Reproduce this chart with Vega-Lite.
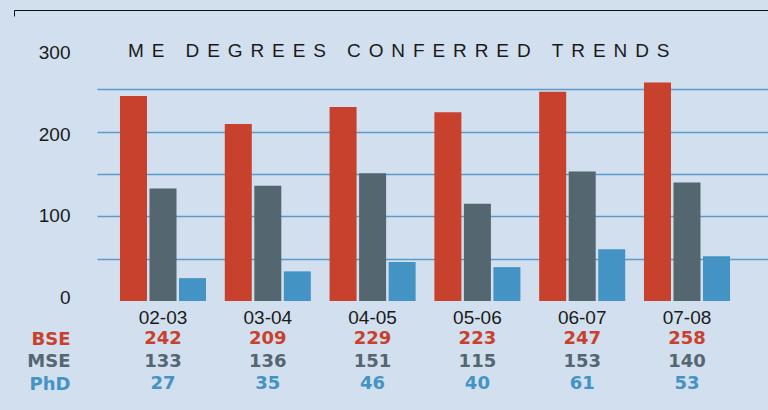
{
  "$schema": "https://vega.github.io/schema/vega-lite/v6.json",
  "autosize": "none",
  "padding": {"left": 97, "top": 47, "right": 0, "bottom": 109},
  "width": 671,
  "height": 254,
  "background": "#d2dfee",
  "config": {"view": {"stroke": null}},
  "title": {
    "text": "M\u2005\u2006E\u2005\u2006 \u2005\u2006D\u2005\u2006E\u2005\u2006G\u2005\u2006R\u2005\u2006E\u2005\u2006E\u2005\u2006S\u2005\u2006 \u2005\u2006C\u2005\u2006O\u2005\u2006N\u2005\u2006F\u2005\u2006E\u2005\u2006R\u2005\u2006R\u2005\u2006E\u2005\u2006D\u2005\u2006 \u2005\u2006T\u2005\u2006R\u2005\u2006E\u2005\u2006N\u2005\u2006D\u2005\u2006S",
    "anchor": "start",
    "frame": "group",
    "dx": 31,
    "offset": -32.4,
    "baseline": "alphabetic",
    "font": "Liberation Sans",
    "fontSize": 19,
    "fontWeight": "normal",
    "color": "#1a1a1a"
  },
  "data": {
    "values": [
      {"year": "02-03", "degree": "BSE", "count": 242},
      {"year": "02-03", "degree": "MSE", "count": 133},
      {"year": "02-03", "degree": "PhD", "count": 27},
      {"year": "03-04", "degree": "BSE", "count": 209},
      {"year": "03-04", "degree": "MSE", "count": 136},
      {"year": "03-04", "degree": "PhD", "count": 35},
      {"year": "04-05", "degree": "BSE", "count": 229},
      {"year": "04-05", "degree": "MSE", "count": 151},
      {"year": "04-05", "degree": "PhD", "count": 46},
      {"year": "05-06", "degree": "BSE", "count": 223},
      {"year": "05-06", "degree": "MSE", "count": 115},
      {"year": "05-06", "degree": "PhD", "count": 40},
      {"year": "06-07", "degree": "BSE", "count": 247},
      {"year": "06-07", "degree": "MSE", "count": 153},
      {"year": "06-07", "degree": "PhD", "count": 61},
      {"year": "07-08", "degree": "BSE", "count": 258},
      {"year": "07-08", "degree": "MSE", "count": 140},
      {"year": "07-08", "degree": "PhD", "count": 53}
    ]
  },
  "layer": [
    {
      "mark": {"type": "bar"},
      "encoding": {
        "x": {
          "field": "year",
          "type": "nominal",
          "scale": {"type": "band", "paddingInner": 0.179, "paddingOuter": 0.2909, "align": 0.377},
          "axis": {
            "orient": "bottom",
            "title": null,
            "domain": false,
            "ticks": false,
            "labelAngle": 0,
            "labelPadding": 7,
            "labelFont": "Liberation Sans",
            "labelFontSize": 19,
            "labelColor": "#1a1a1a"
          }
        },
        "xOffset": {
          "field": "degree",
          "type": "nominal",
          "sort": ["BSE", "MSE", "PhD"],
          "scale": {"paddingInner": 0.085, "paddingOuter": 0}
        },
        "y": {
          "field": "count",
          "type": "quantitative",
          "scale": {"domain": [0, 300], "nice": false},
          "axis": {
            "orient": "left",
            "title": null,
            "values": [0, 50, 100, 150, 200, 250, 300],
            "labelExpr": "datum.value % 100 === 0 ? datum.label : ''",
            "labelOverlap": false,
            "domain": false,
            "ticks": false,
            "labelPadding": 27,
            "labelFont": "Liberation Sans",
            "labelFontSize": 19,
            "labelColor": "#1a1a1a",
            "labelOffset": {
              "condition": [
                {"test": "datum.value === 300", "value": 5.6},
                {"test": "datum.value === 200", "value": 2.5},
                {"test": "datum.value === 0", "value": -3.6}
              ],
              "value": -0.9
            },
            "grid": true,
            "gridWidth": 1.5,
            "gridColor": {
              "condition": {"test": "datum.value === 0 || datum.value === 300", "value": "transparent"},
              "value": "#5b9bca"
            }
          }
        },
        "color": {
          "field": "degree",
          "type": "nominal",
          "scale": {"domain": ["BSE", "MSE", "PhD"], "range": ["#c8412c", "#546670", "#4393c4"]},
          "legend": null
        }
      }
    },
    {
      "mark": {"type": "text", "font": "DejaVu Sans", "fontWeight": "bold", "fontSize": 18, "baseline": "middle", "align": "center"},
      "encoding": {
        "x": {
          "field": "year",
          "type": "nominal",
          "bandPosition": 0.5,
          "scale": {"type": "band", "paddingInner": 0.179, "paddingOuter": 0.2909, "align": 0.377},
          "axis": null
        },
        "y": {
          "field": "degree",
          "type": "nominal",
          "scale": {"type": "point", "domain": ["BSE", "MSE", "PhD"], "range": [292, 337], "padding": 0},
          "axis": {
            "orient": "left",
            "title": null,
            "domain": false,
            "ticks": false,
            "grid": false,
            "labelPadding": 27,
            "labelFont": "DejaVu Sans",
            "labelFontWeight": "bold",
            "labelFontSize": 18,
            "labelColor": {
              "condition": [
                {"test": "datum.value === 'BSE'", "value": "#c8412c"},
                {"test": "datum.value === 'MSE'", "value": "#546670"}
              ],
              "value": "#4393c4"
            }
          }
        },
        "text": {"field": "count", "type": "quantitative"},
        "color": {"field": "degree", "type": "nominal", "legend": null}
      }
    },
    {
      "mark": {"type": "rule", "opacity": 0},
      "encoding": {
        "x": {
          "datum": 0,
          "type": "quantitative",
          "scale": {"domain": [0, 1], "range": [0, 754]},
          "axis": {
            "orient": "top",
            "title": null,
            "values": [0],
            "labels": false,
            "grid": false,
            "domain": true,
            "domainColor": "#111111",
            "domainWidth": 1,
            "ticks": true,
            "tickSize": -6,
            "tickColor": "#111111",
            "tickWidth": 1,
            "translate": -82.5,
            "offset": -46
          }
        }
      }
    }
  ],
  "resolve": {
    "scale": {"x": "independent", "y": "independent"},
    "axis": {"x": "independent", "y": "independent"}
  }
}
